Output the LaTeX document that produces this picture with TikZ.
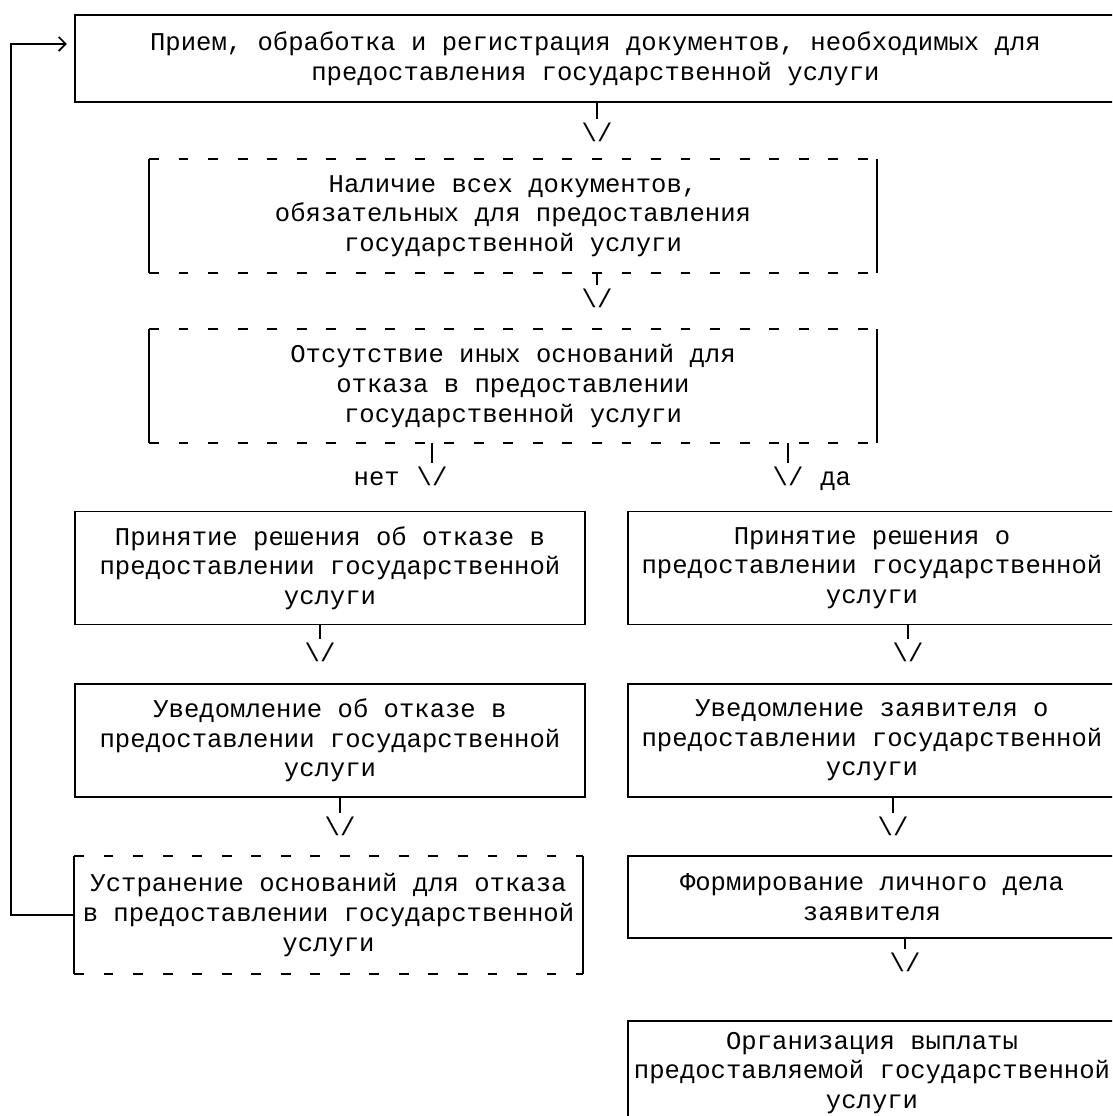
\documentclass[tikz,border=0pt]{standalone}
\usepackage{fontspec}
\setmainfont{Liberation Mono}
\usetikzlibrary{positioning,arrows.meta}

\begin{document}
\begin{tikzpicture}[x=0.025cm, y=-0.025cm, line width=1.2pt,
    font=\fontsize{18.2}{21.1}\selectfont,
    box/.style={rectangle, align=center, inner sep=0pt},
    solidbox/.style={box, draw},
    vee/.style={inner sep=0pt},
    stub/.style={shorten >=2pt},
    loopline/.style={-{Straight Barb[length=5pt,width=10pt]}, shorten >=5pt}]
  \useasboundingbox (0,0) rectangle (1112,1116);
  \clip (0,0) rectangle (1112,1116);
  % boxes
  \node[solidbox, minimum width=26.03cm, minimum height=2.175cm] (recv) at (595.5,58.5)
    {Прием, обработка и регистрация документов, необходимых для\\предоставления государственной услуги};
  \node[box, minimum width=18.15cm, minimum height=2.8cm] (need) at (513,216)
    {Наличие всех документов,\\обязательных для предоставления\\государственной услуги};
  \node[box, minimum width=18.15cm, minimum height=2.8cm] (other) at (513,386)
    {Отсутствие иных оснований для\\отказа в предоставлении\\государственной услуги};
  \node[solidbox, minimum width=12.75cm, minimum height=2.825cm] (refdec) at (330,568)
    {Принятие решения об отказе в\\предоставлении государственной\\услуги};
  \node[solidbox, minimum width=12.2cm, minimum height=2.825cm] (okdec) at (872,568)
    {Принятие решения о\\предоставлении государственной\\услуги};
  \node[solidbox, minimum width=12.75cm, minimum height=2.825cm] (refnote) at (330,740.5)
    {Уведомление об отказе в\\предоставлении государственной\\услуги};
  \node[solidbox, minimum width=12.2cm, minimum height=2.825cm] (oknote) at (872,740.5)
    {Уведомление заявителя о\\предоставлении государственной\\услуги};
  \node[box, minimum width=12.675cm, minimum height=2.9cm] (fix) at (328.5,915)
    {Устранение оснований для отказа\\в предоставлении государственной\\услуги};
  \node[solidbox, minimum width=12.2cm, minimum height=2.05cm] (file) at (872,897)
    {Формирование личного дела\\заявителя};
  \node[solidbox, minimum width=12.2cm, minimum height=2.6cm] (pay) at (872,1073)
    {Организация выплаты\\предоставляемой государственной\\услуги};
  % dashed frames, solid sides
  \foreach \n in {need,other,fix}{
    \draw[dash pattern=on 7pt off 14pt] (\n.north west) -- (\n.north east) (\n.south west) -- (\n.south east);
    \draw (\n.north west) -- (\n.south west) (\n.north east) -- (\n.south east);
  }
  % arrows
  \node[vee] (a1) at (597,132) {\textbackslash/};
  \node[vee] (a2) at (597,298) {\textbackslash/};
  \node[vee] (a3) at (432,476) {\textbackslash/};
  \node[vee] (a4) at (788,476) {\textbackslash/};
  \node[vee] (a5) at (320,652) {\textbackslash/};
  \node[vee] (a6) at (908,652) {\textbackslash/};
  \node[vee] (a7) at (340,826) {\textbackslash/};
  \node[vee] (a8) at (893,826) {\textbackslash/};
  \node[vee] (a9) at (905,962) {\textbackslash/};
  \node[vee, base left=0.38cm of a3] (no) {нет};
  \node[vee, base right=0.38cm of a4] (yes) {да};
  \draw[stub] (recv.south -| a1) -- (a1.north);
  \draw[stub] (need.south -| a2) -- (a2.north);
  \draw[stub] (other.south -| a3) -- (a3.north);
  \draw[stub] (other.south -| a4) -- (a4.north);
  \draw[stub] (refdec.south -| a5) -- (a5.north);
  \draw[stub] (okdec.south -| a6) -- (a6.north);
  \draw[stub] (refnote.south -| a7) -- (a7.north);
  \draw[stub] (oknote.south -| a8) -- (a8.north);
  \draw[stub] (file.south -| a9) -- (a9.north);
  % back to the start
  \draw[loopline] (fix.west) -- ++(-63,0) |- ([yshift=0.3625cm]recv.west);
\end{tikzpicture}
\end{document}
